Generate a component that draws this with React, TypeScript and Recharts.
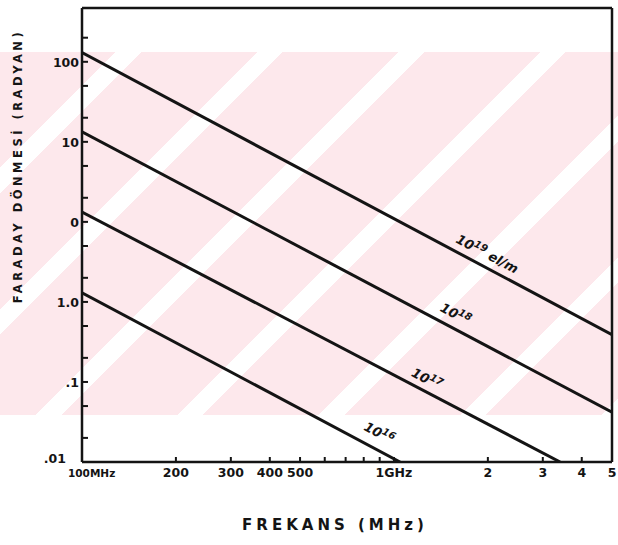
import React from "react";
import { LineChart, Line, XAxis, YAxis, ReferenceLine, ReferenceDot } from "recharts";

// frequency in MHz, Faraday rotation in radians
const freq19 = [100, 5000];
const rot19 = [1300, 0.39];
const freq18 = [100, 5000];
const rot18 = [133, 0.042];
const freq17 = [100, 3410];
const rot17 = [13.3, 0.01];
const freq16 = [100, 1046];
const rot16 = [1.3, 0.01];

const lineExps = ["19", "18", "17", "16"];
const lineUnits = [" el/m", "", "", ""];
const labelFreqs = [1960, 1550, 1255, 883];
const labelRots = [3.55, 0.63, 0.097, 0.0205];

const xTickValues = [100, 200, 300, 400, 500, 600, 700, 800, 900, 1000, 2000, 3000, 4000, 5000];
const xTickTexts = ["100MHz", "200", "300", "400", "500", "", "", "", "", "1GHz", "2", "3", "4", "5"];
const yTickValues = [0.01, 0.02, 0.05, 0.1, 0.2, 0.5, 1, 2, 5, 10, 20, 50, 100, 200, 500, 1000, 2000];
const yTickTexts = [".01", "", "", ".1", "", "", "1.0", "", "", "0", "", "", "10", "", "", "100", ""];

const X_DOMAIN = [100, 5000];
const Y_DOMAIN = [0.01, 4700];

const INK = "#141414";
const FONT = "'DejaVu Sans', sans-serif";

const toPoints = (f: number[], r: number[]) => f.map((v, i) => ({ f: v, rot: r[i] }));
const series = [
  toPoints(freq19, rot19),
  toPoints(freq18, rot18),
  toPoints(freq17, rot17),
  toPoints(freq16, rot16),
];

const YTick = (props: any) => {
  const { x, y, payload } = props;
  const i = yTickValues.indexOf(payload.value);
  const text = i >= 0 ? yTickTexts[i] : "";
  const bottom = payload.value === Y_DOMAIN[0];
  return (
    <g>
      <line x1={x} x2={x + 6} y1={y} y2={y} stroke={INK} strokeWidth={2} />
      {text && (
        <text
          x={bottom ? x - 16 : x - 3}
          y={y}
          dy={bottom ? 1 : 5}
          textAnchor="end"
          fontFamily={FONT}
          fontWeight="bold"
          fontSize={12.5}
          fill={INK}
        >
          {text}
        </text>
      )}
    </g>
  );
};

const XTick = (props: any) => {
  const { x, y, payload } = props;
  const i = xTickValues.indexOf(payload.value);
  const text = i >= 0 ? xTickTexts[i] : "";
  const first = payload.value === X_DOMAIN[0];
  return (
    <g>
      <line x1={x} x2={x} y1={y} y2={y - 5} stroke={INK} strokeWidth={2} />
      {text && (
        <text
          x={first ? x - 14 : x}
          y={y + 15}
          textAnchor={first ? "start" : "middle"}
          fontFamily={FONT}
          fontWeight="bold"
          fontSize={first ? 10.5 : 12.5}
          fill={INK}
        >
          {text}
        </text>
      )}
    </g>
  );
};

const LineTag = (exp: string, unit: string) => (p: any) => (
  <text
    x={p.cx}
    y={p.cy}
    textAnchor="middle"
    transform={`rotate(28 ${p.cx} ${p.cy})`}
    fontFamily={FONT}
    fontWeight="bold"
    fontStyle="italic"
    fontSize={13}
    fill={INK}
  >
    10
    <tspan dy={-5} fontSize={10}>
      {exp}
    </tspan>
    <tspan dy={5}>{unit}</tspan>
  </text>
);

export default function App() {
  return (
    <div style={{ position: "absolute", left: 0, top: 0, width: 618, height: 545, background: "#fff" }}>
      <div
        style={{
          position: "absolute",
          left: 0,
          top: 52,
          width: 618,
          height: 363,
          background:
            "repeating-linear-gradient(135deg, #fde8ec 0px, #fde8ec 82px, #ffffff 82px, #ffffff 100px)",
        }}
      />
      <div style={{ position: "absolute", left: 0, top: 0 }}>
        <LineChart width={618} height={545} margin={{ top: 8, right: 6, left: 0, bottom: 0 }}>
          <XAxis
            dataKey="f"
            type="number"
            scale="log"
            domain={X_DOMAIN}
            allowDataOverflow
            ticks={xTickValues}
            interval={0}
            tick={<XTick />}
            tickLine={false}
            tickSize={0}
            tickMargin={0}
            height={83}
            axisLine={{ stroke: INK, strokeWidth: 2.5 }}
            label={{
              content: (p: any) => (
                <text
                  x={p.viewBox.x + p.viewBox.width / 2 - 12}
                  y={p.viewBox.y + 68}
                  textAnchor="middle"
                  fontFamily={FONT}
                  fontWeight="bold"
                  fontSize={15}
                  letterSpacing={4}
                  fill={INK}
                >
                  FREKANS (MHz)
                </text>
              ),
            }}
          />
          <YAxis
            dataKey="rot"
            type="number"
            scale="log"
            domain={Y_DOMAIN}
            allowDataOverflow
            ticks={yTickValues}
            interval={0}
            tick={<YTick />}
            tickLine={false}
            tickSize={0}
            tickMargin={0}
            width={82}
            axisLine={{ stroke: INK, strokeWidth: 2.5 }}
            label={{
              content: (p: any) => {
                const cx = p.viewBox.x + 22;
                const cy = p.viewBox.y + 158;
                return (
                  <text
                    x={cx}
                    y={cy}
                    textAnchor="middle"
                    transform={`rotate(-90 ${cx} ${cy})`}
                    fontFamily={FONT}
                    fontWeight="bold"
                    fontSize={11.5}
                    letterSpacing={3.5}
                    fill={INK}
                  >
                    FARADAY DÖNMESİ (RADYAN)
                  </text>
                );
              },
            }}
          />
          <ReferenceLine y={Y_DOMAIN[1]} stroke={INK} strokeWidth={2.5} />
          <ReferenceLine x={X_DOMAIN[1]} stroke={INK} strokeWidth={2.5} />
          {series.map((d, i) => (
            <Line
              key={lineExps[i]}
              data={d}
              dataKey="rot"
              stroke={INK}
              strokeWidth={3}
              dot={false}
              activeDot={false}
              isAnimationActive={false}
            />
          ))}
          {lineExps.map((exp, i) => (
            <ReferenceDot key={exp} x={labelFreqs[i]} y={labelRots[i]} r={0} shape={LineTag(exp, lineUnits[i])} />
          ))}
        </LineChart>
      </div>
    </div>
  );
}
